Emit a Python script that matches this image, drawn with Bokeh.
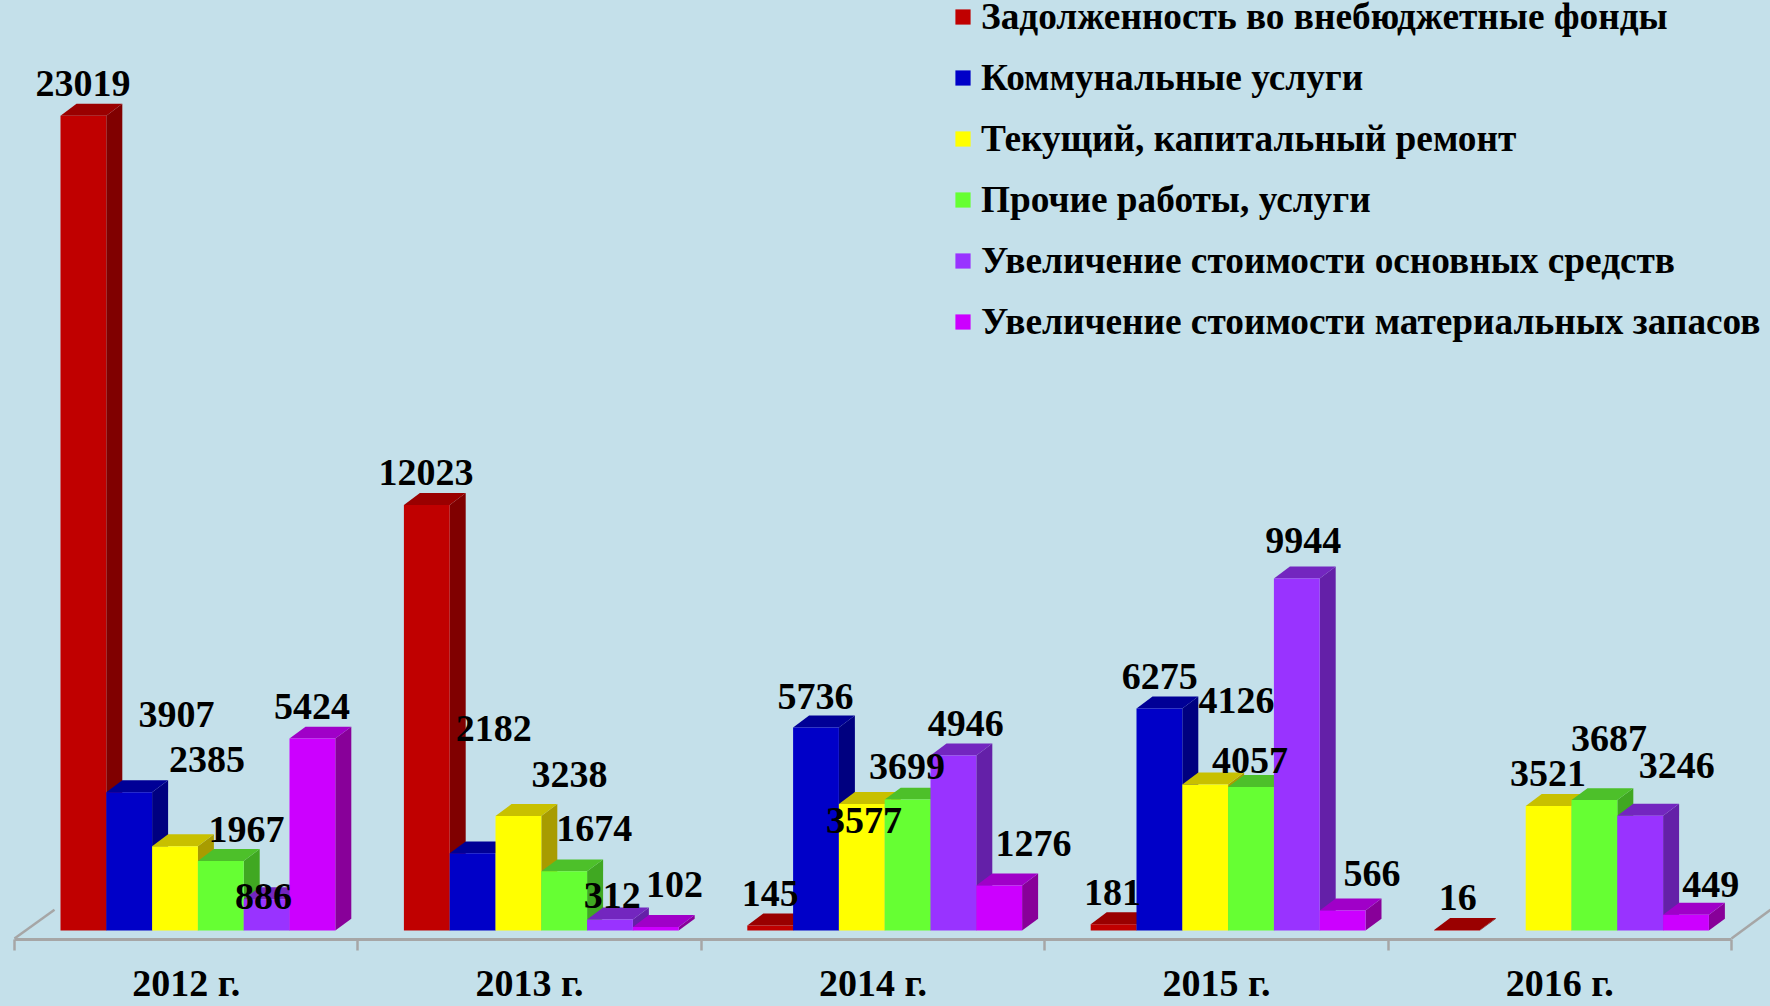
from bokeh.plotting import figure
from bokeh.models import Range1d, FixedTicker, LinearAxis, Legend, LegendItem
from bokeh.core.properties import value
from bokeh.embed import file_html
from bokeh.resources import INLINE

years = ["2012 г.", "2013 г.", "2014 г.", "2015 г.", "2016 г."]
names = ["Задолженность во внебюджетные фонды", "Коммунальные услуги", "Текущий, капитальный ремонт",
         "Прочие работы, услуги", "Увеличение стоимости основных средств", "Увеличение стоимости материальных запасов"]
debt = [23019, 12023, 145, 181, 16]
communal = [3907, 2182, 5736, 6275, None]
repair = [2385, 3238, 3577, 4126, 3521]
other = [1967, 1674, 3699, 4057, 3687]
fixed_assets = [886, 312, 4946, 9944, 3246]
materials = [5424, 102, 1276, 566, 449]
series = [debt, communal, repair, other, fixed_assets, materials]

front = ["#C00000", "#0000C8", "#FFFF00", "#66FF33", "#9933FF", "#CC00FF"]
top = ["#9A0000", "#000096", "#C8C000", "#4DC02A", "#7326BF", "#A000C8"]
side = ["#800000", "#000080", "#A89C00", "#40A822", "#6420A8", "#880099"]
BG = "#C4E0EA"
GREY = "#A6A6A6"
FONT = "Liberation Serif"

# label centres, in pixels of the 1568-wide view of the reference, per series
K = 1770 / 1568
label_x = [[73, 377, 682, 985, 1291], [156, 437, 722, 1027, None], [183, 504, 765, 1095, 1371],
           [218, 526, 803, 1107, 1425], [233, 542, 855, 1154, 1485], [276, 597, 915, 1215, 1515]]
label_y = [[74, 421, 797, 796, 801], [637, 650, 621, 603, None], [677, 691, 732, 625, 690],
           [740, 739, 684, 678, 659], [800, 799, 645, 482, 683], [630, 789, 752, 779, 789]]

W, H = 1770, 1006
AXIS_Y = 946
ZERO_Y = 937
X0, STEP = 14, (1731 - 14) / 5
PX_PER_VALUE = 821 / 23019
x_of = lambda px: (px - X0) / STEP
y_of = lambda py: (ZERO_Y - py) / PX_PER_VALUE

p = figure(width=W, height=H, output_backend="svg", toolbar_location=None,
           x_range=Range1d(x_of(0), x_of(W)), y_range=Range1d(y_of(AXIS_Y), y_of(0)),
           x_axis_type=None, y_axis_type=None,
           min_border_left=0, min_border_right=0, min_border_top=0, min_border_bottom=H - AXIS_Y)
p.background_fill_color = BG
p.border_fill_color = BG
p.outline_line_color = None
p.grid.visible = False

BAR_W = 45.8 / STEP
GROUP_PAD = 46 / STEP
DX, DY = 16 / STEP, 12 / PX_PER_VALUE

# floor edges at both ends of the axis
p.segment(x0=[x_of(14), x_of(1731)], y0=[y_of(945), y_of(945)],
          x1=[x_of(54), x_of(1770)], y1=[y_of(916), y_of(916)], line_color=GREY, line_width=2.5)

legend_items = []
for s, vals in enumerate(series):
    idx = [g for g, v in enumerate(vals) if v is not None]
    L = [g + GROUP_PAD + s * BAR_W for g in idx]
    R = [l + BAR_W for l in L]
    V = [vals[g] for g in idx]
    p.patches(xs=[[r, r + DX, r + DX, r] for r in R],
              ys=[[0, DY, v + DY, v] for v in V], fill_color=side[s], line_color=None)
    p.patches(xs=[[l, r, r + DX, l + DX] for l, r in zip(L, R)],
              ys=[[v, v, v + DY, v + DY] for v in V], fill_color=top[s], line_color=None)
    bars = p.quad(left=L, right=R, bottom=0, top=V, fill_color=front[s], line_color=None)
    legend_items.append(LegendItem(label=names[s], renderers=[bars]))

xs, ys, ts = [], [], []
for s, vals in enumerate(series):
    for g, v in enumerate(vals):
        if v is not None:
            xs.append(x_of(label_x[s][g] * K))
            ys.append(y_of(label_y[s][g] * K))
            ts.append(str(v))
p.text(x=xs, y=ys, text=ts, text_font=value(FONT), text_font_style="bold", text_font_size="38px",
       text_color="#000000", text_align="center", text_baseline="middle")

centers = [g + 0.5 for g in range(len(years))]
axis = LinearAxis(ticker=FixedTicker(ticks=centers, minor_ticks=list(range(len(years) + 1))),
                  major_label_overrides={c: y for c, y in zip(centers, years)},
                  bounds=(0, 5), axis_line_color=GREY, axis_line_width=3,
                  major_tick_line_color=None, major_tick_in=0, major_tick_out=0,
                  minor_tick_line_color=GREY, minor_tick_line_width=2.5, minor_tick_in=0, minor_tick_out=11,
                  major_label_standoff=11, major_label_text_font=FONT, major_label_text_font_style="bold",
                  major_label_text_font_size="38px", major_label_text_color="#000000",
                  major_label_text_line_height=0.8)
p.add_layout(axis, "below")

legend = Legend(items=legend_items, location=(953, 596), orientation="vertical",
                background_fill_alpha=0, border_line_color=None, padding=0, margin=0,
                glyph_width=19, glyph_height=19, label_standoff=9, spacing=18,
                label_text_font=FONT, label_text_font_style="bold", label_text_font_size="37.3px",
                label_text_color="#000000")
p.add_layout(legend)

html = file_html(p, INLINE)
html = html.replace("</head>", f"<style>html,body{{margin:0;padding:0;background:{BG};overflow:hidden}}</style></head>", 1)
open("out.html", "w").write(html)
